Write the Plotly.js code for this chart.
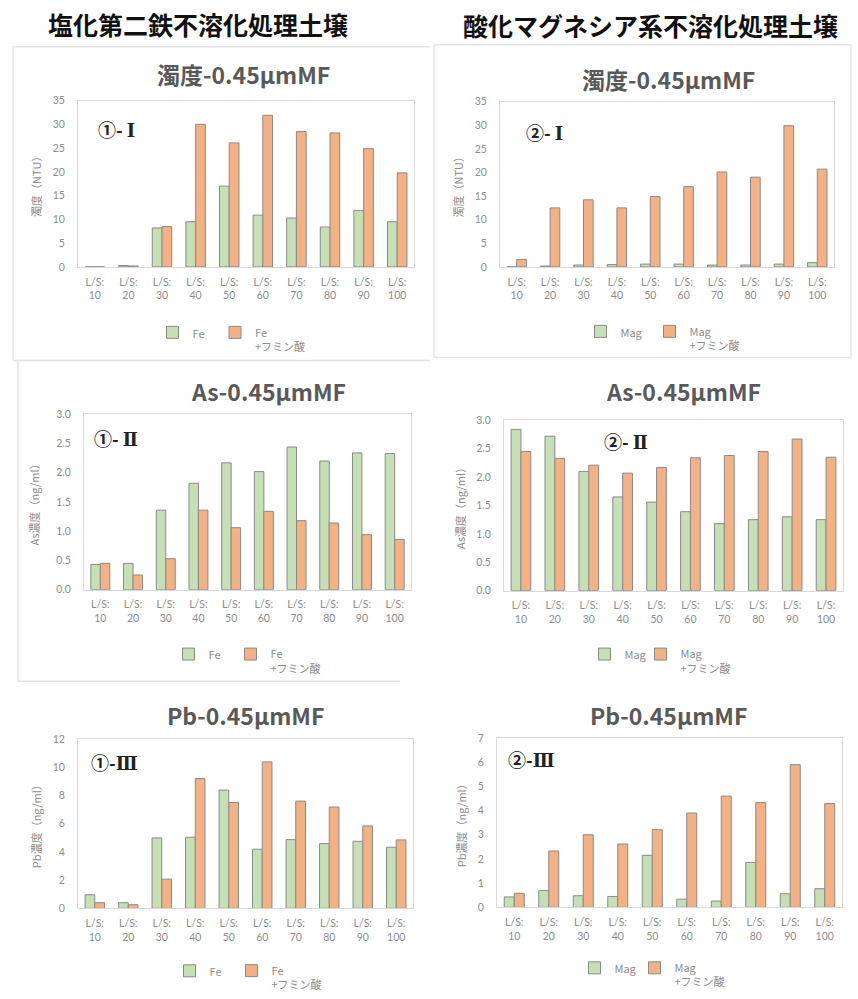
<!DOCTYPE html>
<html><head><meta charset="utf-8">
<script src="https://cdn.plot.ly/plotly-3.0.1.min.js"></script>
<style>body{margin:0;background:#fff}</style>
</head><body><div id="chart" style="width:858px;height:999px"></div>
<script>
// ---- data ----
const categories = ['L/S:<br>10','L/S:<br>20','L/S:<br>30','L/S:<br>40','L/S:<br>50','L/S:<br>60','L/S:<br>70','L/S:<br>80','L/S:<br>90','L/S:<br>100'];
const headingLeft = '塩化第二鉄不溶化処理土壌';
const headingRight = '酸化マグネシア系不溶化処理土壌';
const seriesFe = ['Fe', 'Fe<br>+フミン酸'];
const seriesMag = ['Mag', 'Mag<br>+フミン酸'];
const panelTitles = ['濁度-0.45μmMF','濁度-0.45μmMF','As-0.45μmMF','As-0.45μmMF','Pb-0.45μmMF','Pb-0.45μmMF'];
const panelCircled = ['①- ','②- ','①- ','②- ','①-','②-'];
const panelRoman = ['Ⅰ','Ⅰ','Ⅱ','Ⅱ','Ⅲ','Ⅲ'];
const yTitles = ['濁度（NTU）','濁度（NTU）','As濃度（ng/ml）','As濃度（ng/ml）','Pb濃度（ng/ml）','Pb濃度（ng/ml）'];

const turbFe      = [0, 0.3, 8.2, 9.5, 17.0, 10.9, 10.3, 8.4, 11.9, 9.5];
const turbFeHumic = [0, 0.2, 8.5, 30.0, 26.1, 31.9, 28.5, 28.2, 24.9, 19.8];
const turbMag      = [0, 0.2, 0.4, 0.5, 0.6, 0.6, 0.4, 0.4, 0.6, 0.9];
const turbMagHumic = [1.6, 12.5, 14.2, 12.5, 14.9, 17.0, 20.1, 19.0, 29.9, 20.7];
const asFe      = [0.43, 0.45, 1.36, 1.82, 2.17, 2.02, 2.44, 2.20, 2.34, 2.33];
const asFeHumic = [0.45, 0.25, 0.53, 1.36, 1.06, 1.34, 1.18, 1.14, 0.94, 0.86];
const asMag      = [2.84, 2.72, 2.10, 1.65, 1.56, 1.39, 1.18, 1.25, 1.30, 1.25];
const asMagHumic = [2.45, 2.33, 2.21, 2.07, 2.17, 2.34, 2.38, 2.45, 2.67, 2.35];
const pbFe      = [0.96, 0.40, 4.99, 5.04, 8.38, 4.19, 4.87, 4.59, 4.75, 4.33];
const pbFeHumic = [0.40, 0.26, 2.07, 9.20, 7.50, 10.38, 7.60, 7.18, 5.84, 4.85];
const pbMag      = [0.43, 0.70, 0.48, 0.45, 2.15, 0.34, 0.26, 1.86, 0.56, 0.77];
const pbMagHumic = [0.58, 2.33, 3.00, 2.62, 3.21, 3.90, 4.60, 4.33, 5.90, 4.29];

// ---- layout geometry (pixels) ----
const W = 858, H = 999;
const fx = p => p / W, fy = p => 1 - p / H;
// leg: [green symbol centre x, orange symbol centre x, symbol centre y]
const panels = [
  {data:[turbFe, turbFeHumic], names: seriesFe, plot:[78,414,101,268], range:[0,35], dtick:5, fmt:'', title:[243,74], label:[116,130], standoff:8, leg:[173.5,236,333]},
  {data:[turbMag, turbMagHumic], names: seriesMag, plot:[500,834,102,268], range:[0,35], dtick:5, fmt:'', title:[668,79], label:[544,133], standoff:8, leg:[601.5,670.5,332]},
  {data:[asFe, asFeHumic], names: seriesFe, plot:[84,411,416,592], range:[0,3], dtick:0.5, fmt:'.1f', title:[268,393], label:[116,440], standoff:14, leg:[189.5,251.5,656]},
  {data:[asMag, asMagHumic], names: seriesMag, plot:[504,843,422,593], range:[0,3], dtick:0.5, fmt:'.1f', title:[683,393], label:[626,443], standoff:8, leg:[605.5,661.5,656]},
  {data:[pbFe, pbFeHumic], names: seriesFe, plot:[78,413,742,912], range:[0,12], dtick:2, fmt:'', title:[245,718], label:[114,765], standoff:8, leg:[190.5,252.5,974]},
  {data:[pbMag, pbMagHumic], names: seriesMag, plot:[497,842,741,911], range:[0,7], dtick:1, fmt:'', title:[668,718], label:[531,762], standoff:8, leg:[595.5,655.5,971]}
];
const colors = ['#c5e0b4', '#f4b183'];
const FONT = '"Noto Sans CJK JP", "Noto Sans", sans-serif';
const TICKFONT = 'Lato, "Noto Sans", sans-serif';

const traces = [];
const layout = {
  width: W, height: H, margin:{l:0,r:0,t:0,b:0},
  paper_bgcolor:'#fff', plot_bgcolor:'#fff',
  font:{family: FONT, color:'#808080', size:10},
  barmode:'group', bargap:0.42, bargroupgap:0,
  showlegend: true,
  annotations:[], shapes:[]
};

// panel frames (light grey lines)
const frameLines = [
  [13,47,430,47],[13,47,13,362],[13,362,430,362],
  [434,45,851,45],[434,45,434,359],[434,359,851,359],[851,45,851,359],
  [18,362,18,684],[18,684,400,684]
];
frameLines.forEach(l => {
  layout.shapes.push({type:'line', xref:'paper', yref:'paper', x0:fx(l[0]), y0:fy(l[1]), x1:fx(l[2]), y1:fy(l[3]), line:{color:'#e4e4e4', width:1.5}});
});

const ann = (text, x, y, font) => ({text, xref:'paper', yref:'paper', x:fx(x), y:fy(y), xanchor:'center', yanchor:'middle', showarrow:false, font});
layout.annotations.push(ann(headingLeft, 198, 24, {size:25, color:'#111', family:FONT, weight:'bold'}));
layout.annotations.push(ann(headingRight, 650, 25, {size:25, color:'#111', family:FONT, weight:'bold'}));

let legendCount = 0;
panels.forEach((p, i) => {
  const n = i + 1;
  const xa = n === 1 ? 'x' : 'x' + n;
  const ya = n === 1 ? 'y' : 'y' + n;
  p.data.forEach((vals, k) => {
    legendCount++;
    const lg = legendCount === 1 ? 'legend' : 'legend' + legendCount;
    traces.push({type:'bar', x: categories, y: vals, name: p.names[k], xaxis: xa, yaxis: ya, legend: lg, showlegend: true,
      marker:{color: colors[k], line:{color:'#8a8a8a', width:1}}, hoverinfo:'y'});
    layout[lg] = {orientation:'h', x: fx(p.leg[k] - 21), xanchor:'left', y: fy(p.leg[2] - 13), yanchor:'top',
      valign:'top', itemwidth:30, font:{size:11, color:'#8c8c8c'}, bgcolor:'rgba(0,0,0,0)'};
  });
  const axBase = {showline:true, linecolor:'#d9d9d9', linewidth:1, mirror:true, showgrid:false, zeroline:false,
    ticks:'outside', tickcolor:'rgba(0,0,0,0)', tickfont:{size:10.5, color:'#8c8c8c', family:TICKFONT}, fixedrange:true};
  layout['xaxis' + (n === 1 ? '' : n)] = Object.assign({}, axBase, {
    domain:[fx(p.plot[0]), fx(p.plot[1])], anchor: ya, type:'category', ticklen:5});
  layout['yaxis' + (n === 1 ? '' : n)] = Object.assign({}, axBase, {
    domain:[fy(p.plot[3]), fy(p.plot[2])], anchor: xa, range: p.range, dtick: p.dtick, tickformat: p.fmt, ticklen:10,
    title:{text: yTitles[i], font:{size:11, color:'#8c8c8c'}, standoff: p.standoff}});
  layout.annotations.push(ann(panelTitles[i], p.title[0], p.title[1], {size:23, color:'#595959', family:FONT, weight:'bold'}));
  const labelText = panelCircled[i] + '<span style="font-family:\'DejaVu Serif\'">' + panelRoman[i] + '</span>';
  layout.annotations.push(ann(labelText, p.label[0], p.label[1], {size:18, color:'#222', family:FONT, weight:'bold'}));
});

Plotly.newPlot('chart', traces, layout, {displayModeBar:false, staticPlot:true});
</script>
</body></html>
